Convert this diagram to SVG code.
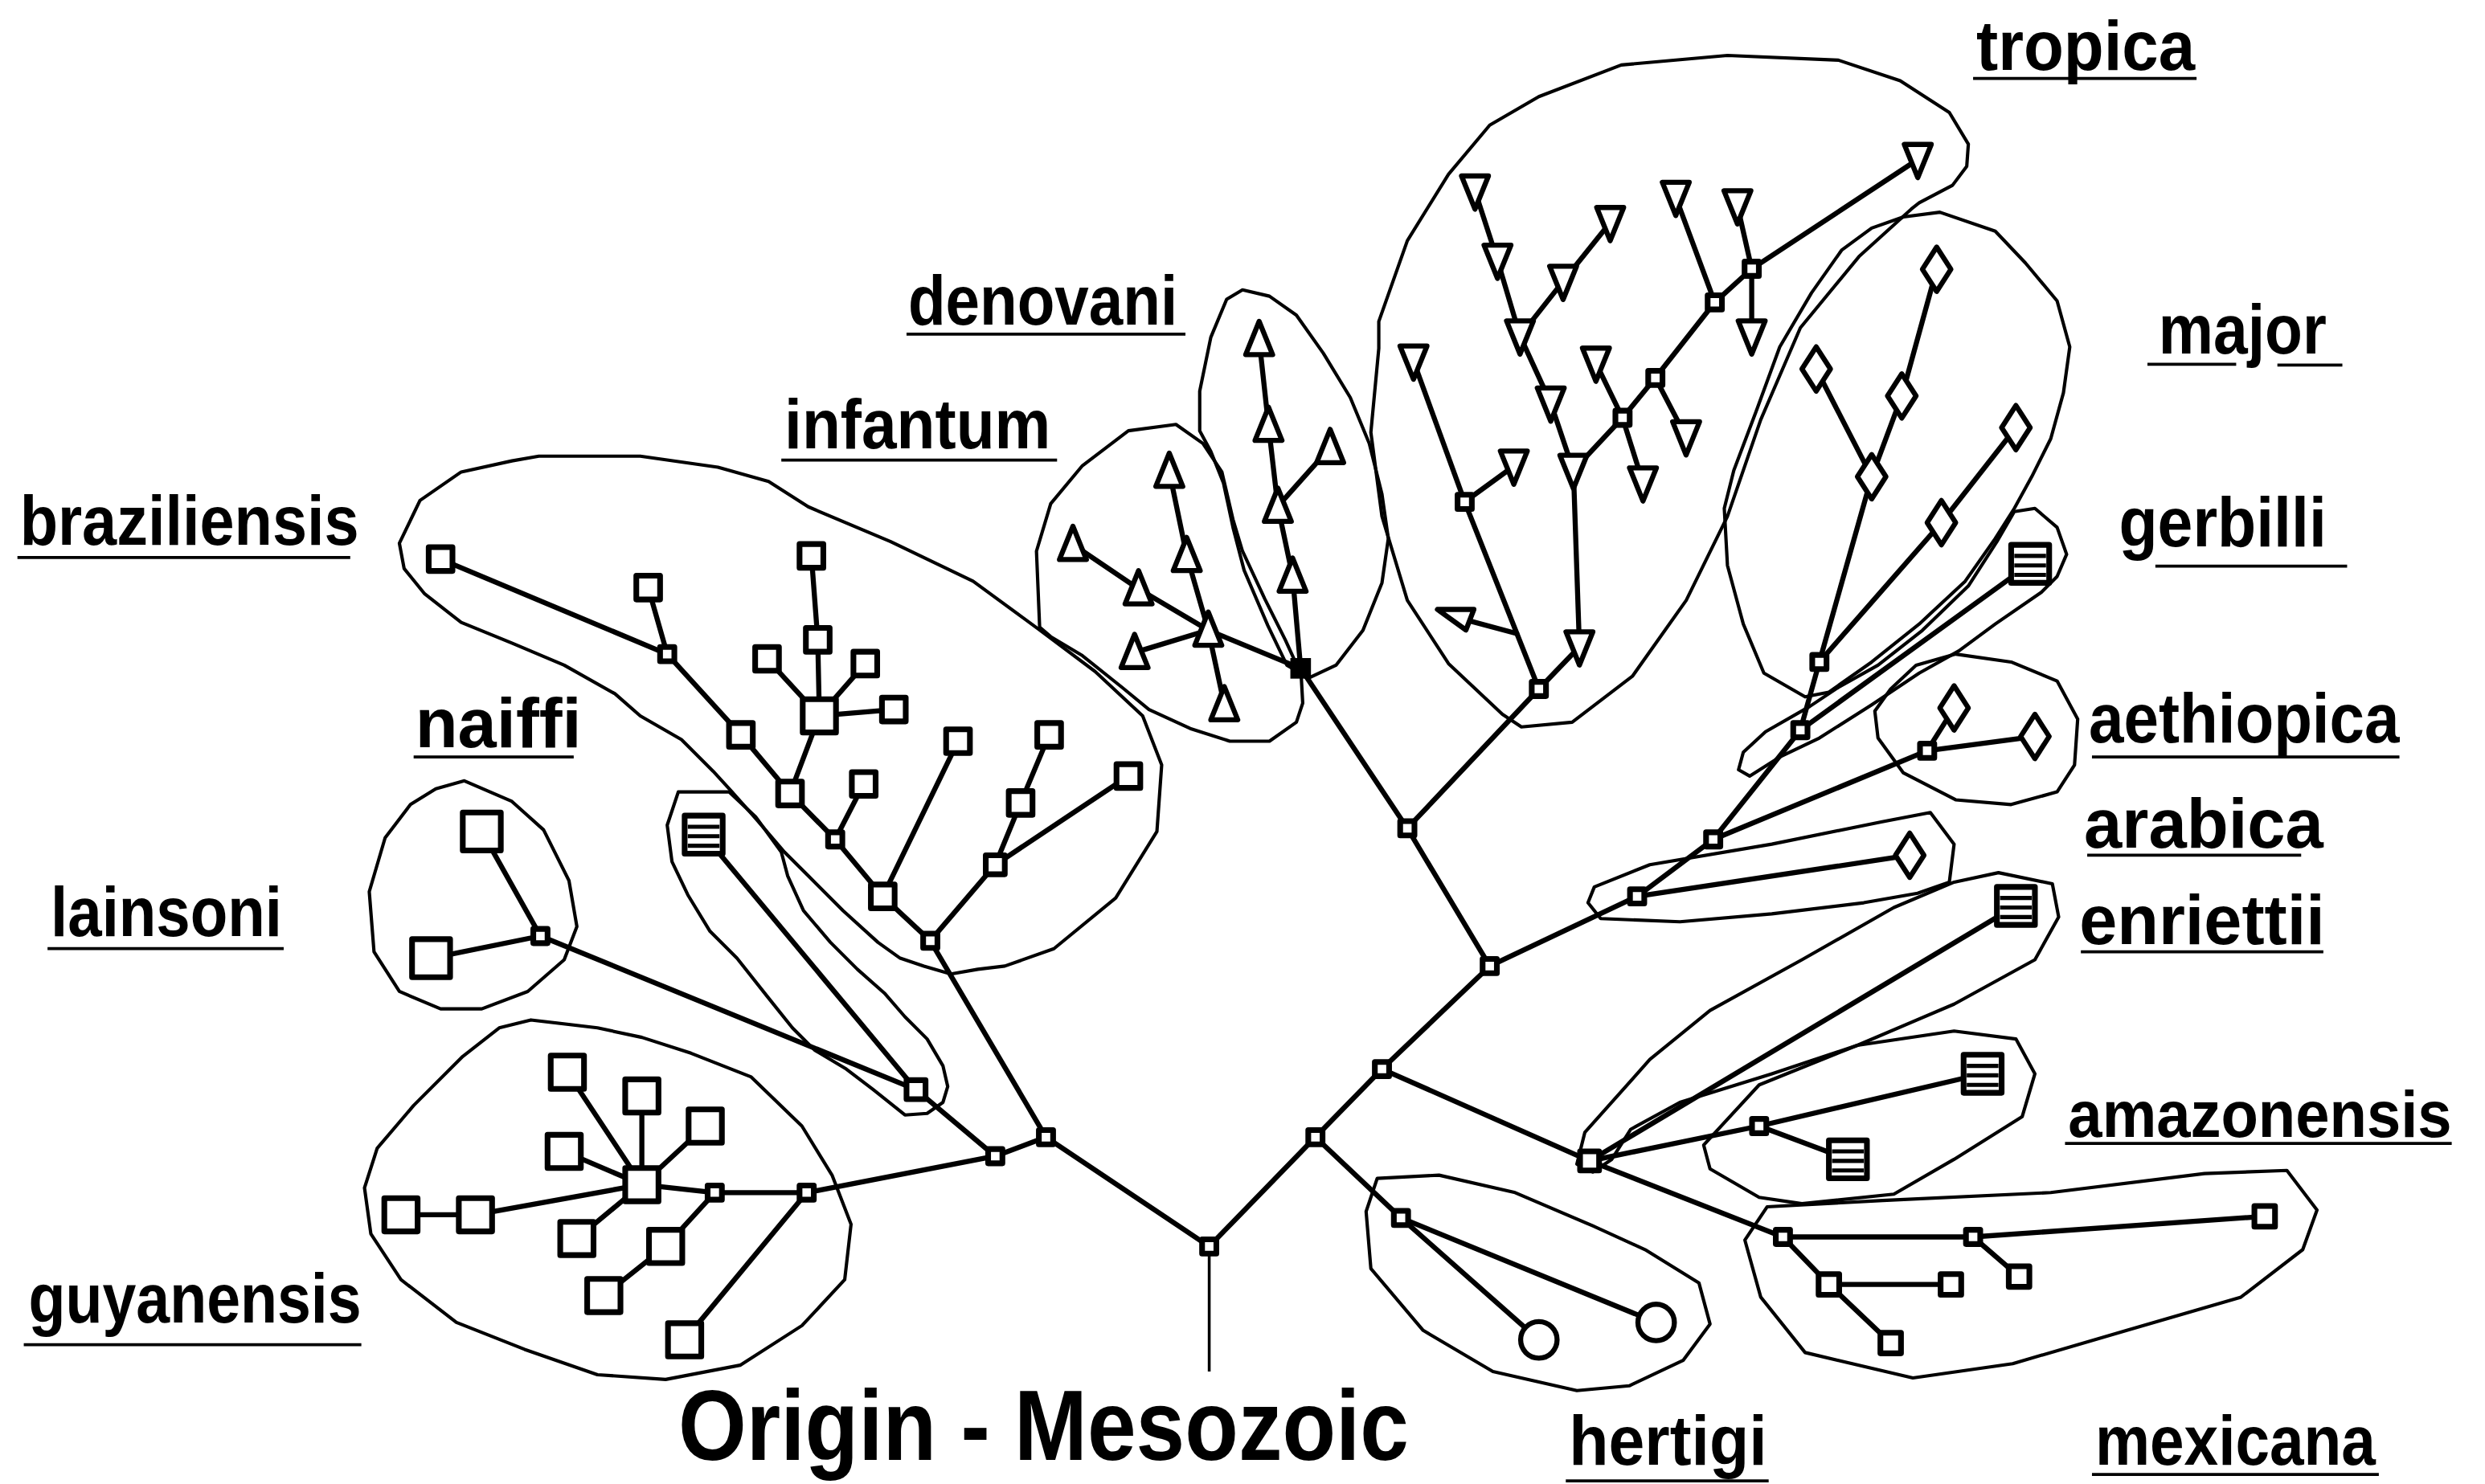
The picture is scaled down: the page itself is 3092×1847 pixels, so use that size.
<svg xmlns="http://www.w3.org/2000/svg" width="3092" height="1847" viewBox="0 0 3092 1847">
<style>
.b{fill:none;stroke:#000;stroke-width:2.1;stroke-linejoin:round}
.e{stroke:#000;stroke-width:3.2;stroke-linecap:round;fill:none}
.stem{stroke:#000;stroke-width:1.8}
.n{fill:#fff;stroke:#000;stroke-width:3.6;stroke-linejoin:round}
.nt{fill:#fff;stroke:#000;stroke-width:3.2;stroke-linejoin:round}
.f{fill:#000;stroke:#000;stroke-width:1}
.st{stroke:#000;stroke-width:2.6}
.lb{font-family:"Liberation Sans",Arial,sans-serif;font-weight:bold;font-size:44px;fill:#000}
.t{font-family:"Liberation Sans",Arial,sans-serif;font-weight:bold;font-size:63px;fill:#000}
.ul{stroke:#000;stroke-width:1.9}
</style>
<defs>
<rect id="jn" class="n" x="-4.5" y="-4.5" width="9" height="9"/>
<rect id="jh" class="n" x="-6" y="-6" width="12" height="12"/>
<rect id="jf" class="f" x="-6" y="-6" width="12" height="12"/>
<rect id="sq" class="n" x="-7.5" y="-7.5" width="15" height="15"/>
<rect id="sqB" class="n" x="-10.5" y="-10.5" width="21" height="21"/>
<rect id="sqL" class="n" x="-12" y="-12" width="24" height="24"/>
<rect id="sqS" class="n" x="-6.5" y="-6.5" width="13" height="13"/>
<polygon id="tdn" class="nt" points="-8.5,-9.5 8.5,-9.5 0,11.5"/>
<polygon id="tup" class="nt" points="0,-11.5 8.5,9.5 -8.5,9.5"/>
<polygon id="tl" class="nt" points="-12,-5 11,-5 6,8"/>
<polygon id="dia" class="nt" points="0,-14 9,0 0,14 -9,0"/>
<circle id="cir" class="nt" r="11.5"/>
<g id="strp"><rect class="n" x="-12" y="-12" width="24" height="24"/><path class="st" d="M-10,-5H10M-10,1H10M-10,7H10"/></g>
</defs>
<rect width="3092" height="1847" fill="#fff"/>
<g transform="scale(1.97194,1.97118)">

<g id="clusters">
<polygon id="c-braziliensis" class="b" points="265,316 291,298 323,291 340,288 404,288 453,295 485,304 510,320 562,342 614,367 655,397 691,424 721,452 733,483 730,525 704,567 665,599 634,610 617,612 600,615 583,610 568,605 554,595 532,575 510,553 495,538 477,517 461,499 450,487 430,467 404,452 388,438 356,420 323,406 291,393 268,375 255,359 252,343"/>
<polygon id="c-naiffi" class="b" points="428,500 460,500 477,516 493,538 497,553 507,575 524,595 541,612 558,627 571,642 585,656 595,673 598,686 595,696 585,703 571,704 551,688 534,675 514,663 500,649 484,629 465,605 448,588 434,565 424,544 421,521"/>
<polygon id="c-lainsoni" class="b" points="293,493 323,506 343,524 359,556 364,585 356,606 333,626 304,637 278,637 252,626 236,601 233,563 243,529 259,508 275,498"/>
<polygon id="c-guyanensis" class="b" points="335,644 377,649 405,655 436,665 474,680 506,711 525,742 537,773 533,808 506,837 467,862 420,871 377,868 331,852 288,835 253,808 234,779 230,750 238,725 261,698 292,667 315,649"/>
<polygon id="c-infantum" class="b" points="656,396 654,348 663,318 683,294 712,272 742,268 759,280 771,298 778,328 784,348 798,378 811,404 821,426 822,444 818,456 801,468 776,468 751,460 725,448 708,434 683,414 663,402"/>
<polygon id="c-denovani" class="b" points="757,272 757,247 764,213 774,189 784,183 801,187 818,199 835,223 852,251 864,280 872,312 876,340 872,368 860,398 843,420 826,428 812,420 800,395 785,360 778,333 772,305 764,285"/>
<polygon id="c-tropica" class="b" points="870,203 888,152 914,110 940,79 971,61 1023,41 1090,35 1160,38 1199,51 1230,71 1242,91 1241,105 1232,117 1211,128 1206,132 1173,162 1136,207 1111,265 1090,326 1064,379 1030,427 992,456 960,459 948,451 914,419 888,379 872,326 865,273 870,220"/>
<polygon id="c-major" class="b" points="1224,134 1259,146 1278,166 1298,190 1306,219 1302,248 1294,277 1282,301 1271,321 1259,340 1240,367 1211,394 1181,418 1154,437 1139,440 1113,425 1100,394 1090,357 1088,321 1094,297 1108,260 1123,219 1143,185 1162,158 1181,144 1201,137"/>
<polygon id="c-gerbilli" class="b" points="1271,323 1284,321 1298,333 1304,350 1298,364 1288,374 1259,394 1236,411 1211,425 1181,445 1148,466 1123,478 1104,490 1097,486 1100,475 1114,462 1142,446 1160,434 1185,420 1213,398 1242,370 1260,342"/>
<polygon id="c-aethiopica" class="b" points="1234,413 1269,418 1298,430 1311,454 1309,483 1298,500 1269,508 1234,505 1201,488 1185,466 1183,449 1193,435 1209,420"/>
<polygon id="c-arabica" class="b" points="1006,560 1041,546 1118,533 1187,519 1218,513 1233,533 1230,557 1210,564 1176,570 1118,577 1060,582 1010,580 1002,570"/>
<polygon id="c-enriettii" class="b" points="1261,551 1295,558 1299,579 1284,606 1233,634 1172,660 1118,678 1060,696 1029,713 1017,732 1005,740 995,735 1000,715 1041,669 1079,638 1137,606 1195,573 1233,557"/>
<polygon id="c-amazonensis" class="b" points="1075,723 1110,685 1172,660 1233,651 1272,656 1284,678 1276,705 1233,732 1195,754 1137,760 1110,756 1079,738"/>
<polygon id="c-hertigi" class="b" points="869,744 908,742 956,753 1005,774 1038,789 1072,810 1079,836 1062,859 1028,875 995,878 942,866 898,840 865,801 862,765"/>
<polygon id="c-mexicana" class="b" points="1443,739 1462,764 1453,789 1414,819 1342,840 1270,861 1207,870 1139,854 1111,819 1101,783 1115,762 1188,758 1294,753 1391,741"/>
</g>

<g id="connectors">
<line class="stem" x1="763" y1="866" x2="763" y2="787"/>
<line class="e" x1="763" y1="787" x2="660" y2="718"/>
<line class="e" x1="660" y1="718" x2="628" y2="730"/>
<line class="e" x1="660" y1="718" x2="587" y2="594"/>
<line class="e" x1="628" y1="730" x2="578" y2="688"/>
<line class="e" x1="628" y1="730" x2="509" y2="753"/>
<line class="e" x1="578" y1="688" x2="444" y2="527"/>
<line class="e" x1="578" y1="688" x2="341" y2="591"/>
<line class="e" x1="341" y1="591" x2="304" y2="525"/>
<line class="e" x1="341" y1="591" x2="272" y2="605"/>
<line class="e" x1="509" y1="753" x2="451" y2="753"/>
<line class="e" x1="509" y1="753" x2="432" y2="846"/>
<line class="e" x1="451" y1="753" x2="405" y2="748"/>
<line class="e" x1="451" y1="753" x2="420" y2="787"/>
<line class="e" x1="420" y1="787" x2="381" y2="818"/>
<line class="e" x1="405" y1="748" x2="358" y2="677"/>
<line class="e" x1="405" y1="748" x2="405" y2="692"/>
<line class="e" x1="405" y1="748" x2="445" y2="711"/>
<line class="e" x1="405" y1="748" x2="356" y2="727"/>
<line class="e" x1="405" y1="748" x2="300" y2="767"/>
<line class="e" x1="300" y1="767" x2="253" y2="767"/>
<line class="e" x1="405" y1="748" x2="364" y2="782"/>
<line class="e" x1="587" y1="594" x2="557" y2="566"/>
<line class="e" x1="587" y1="594" x2="628" y2="546"/>
<line class="e" x1="557" y1="566" x2="527" y2="530"/>
<line class="e" x1="557" y1="566" x2="604.5" y2="468"/>
<line class="e" x1="527" y1="530" x2="545" y2="495"/>
<line class="e" x1="527" y1="530" x2="498.5" y2="501"/>
<line class="e" x1="498.5" y1="501" x2="467.5" y2="464"/>
<line class="e" x1="498.5" y1="501" x2="517" y2="452"/>
<line class="e" x1="467.5" y1="464" x2="421" y2="413"/>
<line class="e" x1="421" y1="413" x2="278" y2="353"/>
<line class="e" x1="421" y1="413" x2="409" y2="371"/>
<line class="e" x1="517" y1="452" x2="516" y2="404"/>
<line class="e" x1="516" y1="404" x2="512" y2="351"/>
<line class="e" x1="517" y1="452" x2="484" y2="416"/>
<line class="e" x1="517" y1="452" x2="546" y2="419"/>
<line class="e" x1="517" y1="452" x2="564" y2="448"/>
<line class="e" x1="628" y1="546" x2="644" y2="507"/>
<line class="e" x1="644" y1="507" x2="662" y2="464"/>
<line class="e" x1="628" y1="546" x2="712" y2="490"/>
<line class="e" x1="763" y1="787" x2="830" y2="718"/>
<line class="e" x1="830" y1="718" x2="872" y2="675"/>
<line class="e" x1="830" y1="718" x2="884" y2="769"/>
<line class="e" x1="884" y1="769" x2="971" y2="846"/>
<line class="e" x1="884" y1="769" x2="1045" y2="835"/>
<line class="e" x1="872" y1="675" x2="940" y2="610"/>
<line class="e" x1="872" y1="675" x2="1003" y2="733"/>
<line class="e" x1="940" y1="610" x2="888" y2="523"/>
<line class="e" x1="888" y1="523" x2="820.7" y2="422"/>
<line class="e" x1="888" y1="523" x2="971" y2="435"/>
<line class="e" x1="940" y1="610" x2="1033" y2="566"/>
<line class="e" x1="1033" y1="566" x2="1205" y2="540"/>
<line class="e" x1="1033" y1="566" x2="1081" y2="530"/>
<line class="e" x1="1081" y1="530" x2="1136" y2="461"/>
<line class="e" x1="1081" y1="530" x2="1216" y2="474"/>
<line class="e" x1="1216" y1="474" x2="1233" y2="447"/>
<line class="e" x1="1216" y1="474" x2="1284" y2="465"/>
<line class="e" x1="1136" y1="461" x2="1281" y2="356"/>
<line class="e" x1="1136" y1="461" x2="1148" y2="418"/>
<line class="e" x1="1148" y1="418" x2="1181" y2="301"/>
<line class="e" x1="1181" y1="301" x2="1146" y2="233"/>
<line class="e" x1="1181" y1="301" x2="1200" y2="250"/>
<line class="e" x1="1200" y1="250" x2="1222" y2="170"/>
<line class="e" x1="1148" y1="418" x2="1225" y2="330"/>
<line class="e" x1="1225" y1="330" x2="1272" y2="270"/>
<line class="e" x1="1003" y1="733" x2="1272" y2="572"/>
<line class="e" x1="1003" y1="733" x2="1110" y2="711"/>
<line class="e" x1="1110" y1="711" x2="1251" y2="678"/>
<line class="e" x1="1110" y1="711" x2="1166" y2="732"/>
<line class="e" x1="1003" y1="733" x2="1125" y2="781"/>
<line class="e" x1="1125" y1="781" x2="1245" y2="781"/>
<line class="e" x1="1245" y1="781" x2="1429" y2="768"/>
<line class="e" x1="1245" y1="781" x2="1274" y2="806"/>
<line class="e" x1="1125" y1="781" x2="1154" y2="811"/>
<line class="e" x1="1154" y1="811" x2="1231" y2="811"/>
<line class="e" x1="1154" y1="811" x2="1193" y2="848"/>
<line class="e" x1="820.7" y1="422" x2="815.6" y2="363.8"/>
<line class="e" x1="815.6" y1="363.8" x2="806.3" y2="319.7"/>
<line class="e" x1="806.3" y1="319.7" x2="800.4" y2="268.6"/>
<line class="e" x1="800.4" y1="268.6" x2="794.5" y2="214.4"/>
<line class="e" x1="806.3" y1="319.7" x2="839.3" y2="282.6"/>
<line class="e" x1="820.7" y1="422" x2="762.4" y2="397.9"/>
<line class="e" x1="762.4" y1="397.9" x2="748.8" y2="350.8"/>
<line class="e" x1="748.8" y1="350.8" x2="737.8" y2="297.6"/>
<line class="e" x1="762.4" y1="397.9" x2="718.4" y2="371.8"/>
<line class="e" x1="718.4" y1="371.8" x2="677" y2="343.8"/>
<line class="e" x1="762.4" y1="397.9" x2="715.9" y2="412"/>
<line class="e" x1="762.4" y1="397.9" x2="772.5" y2="445"/>
<line class="e" x1="971" y1="435" x2="924.2" y2="316.9"/>
<line class="e" x1="924.2" y1="316.9" x2="891.9" y2="228"/>
<line class="e" x1="924.2" y1="316.9" x2="955.2" y2="294.3"/>
<line class="e" x1="919" y1="389.8" x2="957" y2="400"/>
<line class="e" x1="971" y1="435" x2="996.6" y2="408.4"/>
<line class="e" x1="996.6" y1="408.4" x2="992.8" y2="297"/>
<line class="e" x1="992.8" y1="297" x2="978.5" y2="254.5"/>
<line class="e" x1="978.5" y1="254.5" x2="959.1" y2="212.1"/>
<line class="e" x1="959.1" y1="212.1" x2="944.9" y2="164.3"/>
<line class="e" x1="944.9" y1="164.3" x2="930.7" y2="120.6"/>
<line class="e" x1="959.1" y1="212.1" x2="986.3" y2="177.6"/>
<line class="e" x1="986.3" y1="177.6" x2="1016" y2="140.5"/>
<line class="e" x1="992.8" y1="297" x2="1023.8" y2="263.8"/>
<line class="e" x1="1023.8" y1="263.8" x2="1036.7" y2="304.9"/>
<line class="e" x1="1023.8" y1="263.8" x2="1007" y2="229.3"/>
<line class="e" x1="1023.8" y1="263.8" x2="1044.5" y2="238.6"/>
<line class="e" x1="1044.5" y1="238.6" x2="1063.9" y2="275.8"/>
<line class="e" x1="1044.5" y1="238.6" x2="1082" y2="190.9"/>
<line class="e" x1="1082" y1="190.9" x2="1057.4" y2="124.6"/>
<line class="e" x1="1082" y1="190.9" x2="1105.3" y2="169.7"/>
<line class="e" x1="1105.3" y1="169.7" x2="1096.3" y2="129.9"/>
<line class="e" x1="1105.3" y1="169.7" x2="1105.3" y2="212.1"/>
<line class="e" x1="1105.3" y1="169.7" x2="1210.1" y2="100.7"/>
</g>

<g id="nodes">
<g id="n-trunk">
<use id="n-root" href="#jn" x="763" y="787"/>
<use id="n-left" href="#jn" x="660" y="718"/>
<use id="n-left2" href="#jn" x="628" y="730"/>
<use id="n-right" href="#jn" x="830" y="718"/>
<use id="n-right2" href="#jn" x="872" y="675"/>
<use id="n-right3" href="#jn" x="940" y="610"/>
<use id="n-upper" href="#jn" x="888" y="523"/>
<use id="n-oldworld" href="#jn" x="1081" y="530"/>
</g>
<g id="n-naiffi-group">
<use id="n-naiffi-hub" href="#jh" x="578" y="688"/>
<use id="n-naiffi" href="#strp" x="444" y="527"/>
</g>
<g id="n-lainsoni-group">
<use id="n-lainsoni-hub" href="#jn" x="341" y="591"/>
<use id="n-lainsoni-1" href="#sqL" x="304" y="525"/>
<use id="n-lainsoni-2" href="#sqL" x="272" y="605"/>
</g>
<g id="n-guyanensis-group">
<use id="n-guy-j1" href="#jn" x="509" y="753"/>
<use id="n-guy-j2" href="#jn" x="451" y="753"/>
<use id="n-guy-c" href="#sqB" x="405" y="748"/>
<use id="n-guy-1" href="#sqB" x="358" y="677"/>
<use id="n-guy-2" href="#sqB" x="405" y="692"/>
<use id="n-guy-3" href="#sqB" x="445" y="711"/>
<use id="n-guy-4" href="#sqB" x="356" y="727"/>
<use id="n-guy-5" href="#sqB" x="253" y="767"/>
<use id="n-guy-6" href="#sqB" x="300" y="767"/>
<use id="n-guy-7" href="#sqB" x="364" y="782"/>
<use id="n-guy-8" href="#sqB" x="420" y="787"/>
<use id="n-guy-9" href="#sqB" x="381" y="818"/>
<use id="n-guy-10" href="#sqB" x="432" y="846"/>
</g>
<g id="n-braziliensis-group">
<use id="n-bra-root" href="#jn" x="587" y="594"/>
<use id="n-bra-a" href="#sq" x="557" y="566"/>
<use id="n-bra-b" href="#jh" x="628" y="546"/>
<use id="n-bra-ja" href="#jn" x="527" y="530"/>
<use id="n-bra-s1" href="#sq" x="498.5" y="501"/>
<use id="n-bra-s2" href="#sq" x="467.5" y="464"/>
<use id="n-bra-jb" href="#jn" x="421" y="413"/>
<use id="n-bra-big" href="#sqB" x="517" y="452"/>
<use id="n-bra-1" href="#sq" x="545" y="495"/>
<use id="n-bra-2" href="#sq" x="604.5" y="468"/>
<use id="n-bra-3" href="#sq" x="278" y="353"/>
<use id="n-bra-4" href="#sq" x="409" y="371"/>
<use id="n-bra-5" href="#sq" x="516" y="404"/>
<use id="n-bra-6" href="#sq" x="512" y="351"/>
<use id="n-bra-7" href="#sq" x="484" y="416"/>
<use id="n-bra-8" href="#sq" x="546" y="419"/>
<use id="n-bra-9" href="#sq" x="564" y="448"/>
<use id="n-bra-10" href="#sq" x="644" y="507"/>
<use id="n-bra-11" href="#sq" x="662" y="464"/>
<use id="n-bra-12" href="#sq" x="712" y="490"/>
</g>
<g id="n-infantum-group">
<use id="n-dono-hub" href="#jf" x="820.7" y="422"/>
<use id="n-inf-1" href="#tup" x="737.8" y="297.6"/>
<use id="n-inf-2" href="#tup" x="748.8" y="350.8"/>
<use id="n-inf-3" href="#tup" x="762.4" y="397.9"/>
<use id="n-inf-4" href="#tup" x="677" y="343.8"/>
<use id="n-inf-5" href="#tup" x="718.4" y="371.8"/>
<use id="n-inf-6" href="#tup" x="715.9" y="412"/>
<use id="n-inf-7" href="#tup" x="772.5" y="445"/>
</g>
<g id="n-denovani-group">
<use id="n-den-1" href="#tup" x="794.5" y="214.4"/>
<use id="n-den-2" href="#tup" x="800.4" y="268.6"/>
<use id="n-den-3" href="#tup" x="806.3" y="319.7"/>
<use id="n-den-4" href="#tup" x="815.6" y="363.8"/>
<use id="n-den-5" href="#tup" x="839.3" y="282.6"/>
</g>
<g id="n-tropica-group">
<use id="n-tro-hub" href="#jn" x="971" y="435"/>
<use id="n-tro-j1" href="#jn" x="924.2" y="316.9"/>
<use id="n-tro-j3" href="#jn" x="1023.8" y="263.8"/>
<use id="n-tro-j4" href="#jn" x="1044.5" y="238.6"/>
<use id="n-tro-j5" href="#jn" x="1082" y="190.9"/>
<use id="n-tro-j6" href="#jn" x="1105.3" y="169.7"/>
<use id="n-tro-1" href="#tdn" x="930.7" y="120.6"/>
<use id="n-tro-2" href="#tdn" x="944.9" y="164.3"/>
<use id="n-tro-3" href="#tdn" x="959.1" y="212.1"/>
<use id="n-tro-4" href="#tdn" x="978.5" y="254.5"/>
<use id="n-tro-5" href="#tdn" x="992.8" y="297"/>
<use id="n-tro-6" href="#tdn" x="996.6" y="408.4"/>
<use id="n-tro-7" href="#tdn" x="986.3" y="177.6"/>
<use id="n-tro-8" href="#tdn" x="1016" y="140.5"/>
<use id="n-tro-9" href="#tdn" x="1007" y="229.3"/>
<use id="n-tro-10" href="#tdn" x="1063.9" y="275.8"/>
<use id="n-tro-11" href="#tdn" x="1036.7" y="304.9"/>
<use id="n-tro-12" href="#tdn" x="1057.4" y="124.6"/>
<use id="n-tro-13" href="#tdn" x="1096.3" y="129.9"/>
<use id="n-tro-14" href="#tdn" x="1105.3" y="212.1"/>
<use id="n-tro-15" href="#tdn" x="1210.1" y="100.7"/>
<use id="n-tro-16" href="#tdn" x="891.9" y="228"/>
<use id="n-tro-17" href="#tdn" x="955.2" y="294.3"/>
<use id="n-tro-18" href="#tl" x="919" y="389.8"/>
</g>
<g id="n-major-group">
<use id="n-maj-hub" href="#jn" x="1148" y="418"/>
<use id="n-maj-1" href="#dia" x="1181" y="301"/>
<use id="n-maj-2" href="#dia" x="1146" y="233"/>
<use id="n-maj-3" href="#dia" x="1200" y="250"/>
<use id="n-maj-4" href="#dia" x="1222" y="170"/>
<use id="n-maj-5" href="#dia" x="1225" y="330"/>
<use id="n-maj-6" href="#dia" x="1272" y="270"/>
</g>
<g id="n-gerbilli-group">
<use id="n-ger-hub" href="#jn" x="1136" y="461"/>
<use id="n-gerbilli" href="#strp" x="1281" y="356"/>
</g>
<g id="n-aethiopica-group">
<use id="n-aet-hub" href="#jn" x="1216" y="474"/>
<use id="n-aet-1" href="#dia" x="1233" y="447"/>
<use id="n-aet-2" href="#dia" x="1284" y="465"/>
</g>
<g id="n-arabica-group">
<use id="n-ara-hub" href="#jn" x="1033" y="566"/>
<use id="n-arabica" href="#dia" x="1205" y="540"/>
</g>
<g id="n-enriettii-group">
<use id="n-enriettii" href="#strp" x="1272" y="572"/>
</g>
<g id="n-amazonensis-group">
<use id="n-ama-hub" href="#jh" x="1003" y="733"/>
<use id="n-ama-j" href="#jn" x="1110" y="711"/>
<use id="n-ama-1" href="#strp" x="1251" y="678"/>
<use id="n-ama-2" href="#strp" x="1166" y="732"/>
</g>
<g id="n-mexicana-group">
<use id="n-mex-j1" href="#jn" x="1125" y="781"/>
<use id="n-mex-j2" href="#jn" x="1245" y="781"/>
<use id="n-mex-1" href="#sqS" x="1429" y="768"/>
<use id="n-mex-2" href="#sqS" x="1274" y="806"/>
<use id="n-mex-3" href="#sqS" x="1154" y="811"/>
<use id="n-mex-4" href="#sqS" x="1231" y="811"/>
<use id="n-mex-5" href="#sqS" x="1193" y="848"/>
</g>
<g id="n-hertigi-group">
<use id="n-her-hub" href="#jn" x="884" y="769"/>
<use id="n-her-1" href="#cir" x="971" y="846"/>
<use id="n-her-2" href="#cir" x="1045" y="835"/>
</g>
</g>

<g id="labels">
<text class="lb" x="1247" y="44" textLength="138" lengthAdjust="spacingAndGlyphs">tropica</text>
<line class="ul" x1="1245" y1="49.5" x2="1386" y2="49.5"/>
<text class="lb" x="1362" y="223" textLength="106" lengthAdjust="spacingAndGlyphs">major</text>
<line class="ul" x1="1355" y1="230" x2="1411" y2="230"/>
<line class="ul" x1="1437" y1="230.5" x2="1478" y2="230.5"/>
<text class="lb" x="1337" y="345" textLength="131" lengthAdjust="spacingAndGlyphs">gerbilli</text>
<line class="ul" x1="1360" y1="357.5" x2="1481" y2="357.5"/>
<text class="lb" x="1318" y="469" textLength="196" lengthAdjust="spacingAndGlyphs">aethiopica</text>
<line class="ul" x1="1320" y1="478" x2="1514" y2="478"/>
<text class="lb" x="1315" y="535" textLength="151" lengthAdjust="spacingAndGlyphs">arabica</text>
<line class="ul" x1="1317" y1="540" x2="1452" y2="540"/>
<text class="lb" x="1312" y="596" textLength="155" lengthAdjust="spacingAndGlyphs">enriettii</text>
<line class="ul" x1="1313" y1="601" x2="1466" y2="601"/>
<text class="lb" x="1305" y="718" textLength="242" lengthAdjust="spacingAndGlyphs" style="font-size:41px">amazonensis</text>
<line class="ul" x1="1303" y1="722" x2="1547" y2="722"/>
<text class="lb" x="1322" y="925" textLength="177" lengthAdjust="spacingAndGlyphs">mexicana</text>
<line class="ul" x1="1320" y1="931" x2="1501" y2="931"/>
<text class="lb" x="990" y="925" textLength="125" lengthAdjust="spacingAndGlyphs">hertigi</text>
<line class="ul" x1="988" y1="935" x2="1116" y2="935"/>
<text class="t" x="428" y="922" textLength="461" lengthAdjust="spacingAndGlyphs">Origin - Mesozoic</text>
<text class="lb" x="573" y="205" textLength="170" lengthAdjust="spacingAndGlyphs">denovani</text>
<line class="ul" x1="572" y1="211" x2="748" y2="211"/>
<text class="lb" x="495" y="283" textLength="168" lengthAdjust="spacingAndGlyphs">infantum</text>
<line class="ul" x1="493" y1="290.5" x2="667" y2="290.5"/>
<text class="lb" x="12.5" y="344" textLength="214" lengthAdjust="spacingAndGlyphs">braziliensis</text>
<line class="ul" x1="11" y1="352" x2="221" y2="352"/>
<text class="lb" x="262" y="472" textLength="105" lengthAdjust="spacingAndGlyphs">naiffi</text>
<line class="ul" x1="261" y1="478" x2="362" y2="478"/>
<text class="lb" x="32" y="591" textLength="146" lengthAdjust="spacingAndGlyphs">lainsoni</text>
<line class="ul" x1="30" y1="599" x2="179" y2="599"/>
<text class="lb" x="18" y="835" textLength="210" lengthAdjust="spacingAndGlyphs">guyanensis</text>
<line class="ul" x1="15" y1="849" x2="228" y2="849"/>
</g>
</g>
</svg>
